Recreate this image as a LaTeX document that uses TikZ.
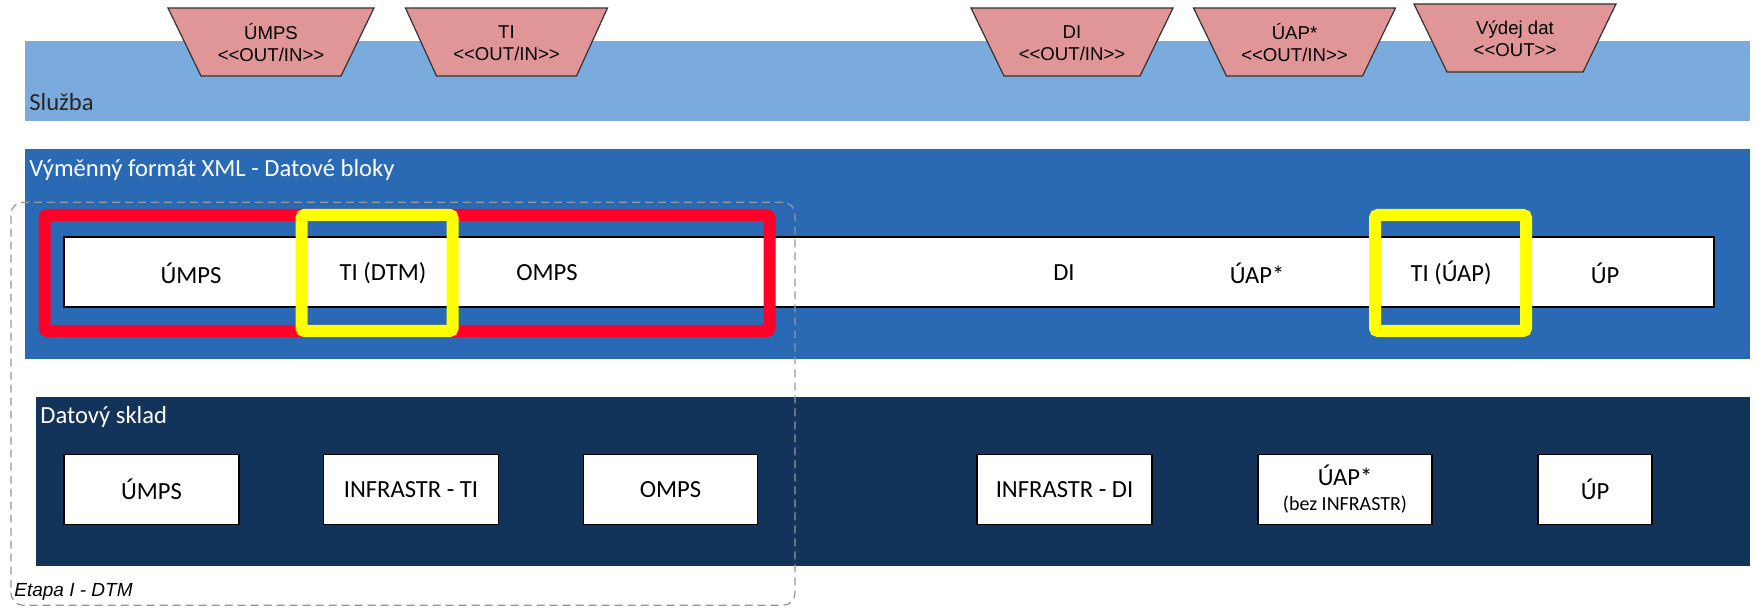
\documentclass[tikz,border=0pt]{standalone}
\usepackage{fontspec}
\setmainfont{Carlito}
\newfontfamily\arialfont{Liberation Sans}

\definecolor{svcblue}{RGB}{123,170,221}
\definecolor{xmlblue}{RGB}{42,106,181}
\definecolor{storenavy}{RGB}{19,52,90}
\definecolor{ifacepink}{RGB}{224,150,150}
\definecolor{hlred}{RGB}{255,0,40}
\definecolor{hlyellow}{RGB}{255,255,0}
\definecolor{stagegray}{RGB}{150,150,150}

\begin{document}
\begin{tikzpicture}[x=0.5pt,y=-0.5pt,
  bandlabel/.style={anchor=west, inner sep=0pt, font=\fontsize{12.3}{14}\selectfont},
  iface/.style={draw=black!80, line width=0.6pt, fill=ifacepink},
  ifacetext/.style={align=center, inner sep=0pt, font=\arialfont\fontsize{9.3}{11}\selectfont},
  blocktext/.style={inner sep=0pt, font=\fontsize{12.3}{14}\selectfont},
  storebox/.style={draw=black, line width=0.6pt, fill=white, minimum height=35pt,
    align=center, inner sep=0pt, font=\fontsize{12.3}{14}\selectfont},
  hlframe/.style={line width=6pt, rounded corners=1.5pt, inner sep=0pt, minimum height=58pt},
  stageframe/.style={draw=stagegray, line width=0.6pt, dash pattern=on 4pt off 2.5pt,
    rounded corners=6pt, inner sep=0pt},
]
\useasboundingbox (0,0) rectangle (1757,608);

% service layer
\fill[svcblue] (25,41) rectangle (1750,121);
\node[bandlabel, text=black!85] (svc) at (29,102) {Služba};

% XML exchange format layer
\fill[xmlblue] (25,149) rectangle (1750,359);
\node[bandlabel, text=white] (xml) at (29,170) {Výměnný formát XML - Datové bloky};

\node[draw=black, line width=0.6pt, fill=white, minimum width=825pt, minimum height=35pt,
  inner sep=0pt] (bar) at (889,272) {};
\node[blocktext] (bumps) at (191,273) {ÚMPS};
\node[blocktext] (btidtm) at (383,273) {TI (DTM)};
\node[blocktext] (bomps) at (547,273) {OMPS};
\node[blocktext] (bdi) at (1064,273) {DI};
\node[blocktext] (buap) at (1257,273) {ÚAP*};
\node[blocktext] (btiuap) at (1451,273) {TI (ÚAP)};
\node[blocktext] (bup) at (1605,273) {ÚP};

% highlighted selections
\node[hlframe, draw=hlred, minimum width=362.5pt] (dtmsel) at (407,273) {};
\node[hlframe, draw=hlyellow, minimum width=75.5pt] (tisel1) at (377,273) {};
\node[hlframe, draw=hlyellow, minimum width=75.5pt] (tisel2) at (1450.5,273) {};

% data store layer
\fill[storenavy] (36,397) rectangle (1750,566);
\node[bandlabel, text=white] (store) at (40,417) {Datový sklad};

\node[storebox, minimum width=87.5pt] (sumps) at (151.5,489.5) {ÚMPS};
\node[storebox, minimum width=87.5pt] (sinfti) at (411,489.5) {INFRASTR - TI};
\node[storebox, minimum width=87pt] (somps) at (670.5,489.5) {OMPS};
\node[storebox, minimum width=87.5pt] (sinfdi) at (1064.5,489.5) {INFRASTR - DI};
\node[storebox, minimum width=87pt] (suap) at (1345,489.5)
  {ÚAP*\\[-1.5pt]{\fontsize{10}{11}\selectfont(bez INFRASTR)}};
\node[storebox, minimum width=57pt] (sup) at (1595,489.5) {ÚP};

% stage boundary
\node[stageframe, minimum width=392pt, minimum height=201.5pt] (stage) at (403,403.75) {};
\node[anchor=west, inner sep=0pt, font=\arialfont\itshape\fontsize{9.5}{11}\selectfont]
  (stagelbl) at (14,592) {Etapa I - DTM};

% service interfaces
\draw[iface, shift={(271,42)}] (-103,-34) -- (103,-34) -- (70,34) -- (-70,34) -- cycle;
\node[ifacetext] (iumps) at (271,43) {ÚMPS\\<{}<OUT/IN>{}>};
\draw[iface, shift={(506.5,42)}] (-101,-34) -- (101,-34) -- (70,34) -- (-70,34) -- cycle;
\node[ifacetext] (iti) at (506.5,43) {TI\\<{}<OUT/IN>{}>};
\draw[iface, shift={(1072,42)}] (-101,-34) -- (101,-34) -- (68,34) -- (-68,34) -- cycle;
\node[ifacetext] (idi) at (1072,43) {DI\\<{}<OUT/IN>{}>};
\draw[iface, shift={(1294.5,42)}] (-101,-34) -- (101,-34) -- (68,34) -- (-68,34) -- cycle;
\node[ifacetext] (iuap) at (1294.5,43) {ÚAP*\\<{}<OUT/IN>{}>};
\draw[iface, shift={(1515,38)}] (-101,-34) -- (101,-34) -- (68,34) -- (-68,34) -- cycle;
\node[ifacetext] (iout) at (1515,39) {Výdej dat\\<{}<OUT>{}>};
\end{tikzpicture}
\end{document}
